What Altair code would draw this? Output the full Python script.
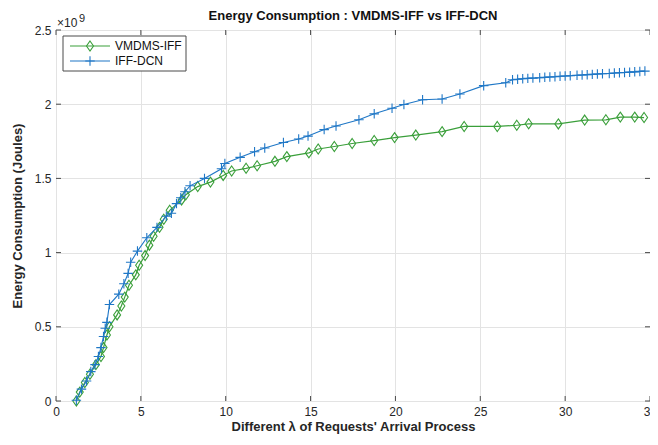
import altair as alt
import pandas as pd

# ---- data ----
series_names = ["VMDMS-IFF", "IFF-DCN"]

vm_x = [1.2, 1.4, 1.7, 2.0, 2.35, 2.65, 2.8, 3.0, 3.15, 3.6,
        3.85, 4.05, 4.3, 4.7, 4.9, 5.25, 5.5, 5.75, 6.1, 6.35,
        6.7, 7.4, 7.65, 8.35, 9.1, 9.85, 10.35, 11.2, 11.85, 12.9,
        13.6, 14.9, 15.45, 16.4, 17.45, 18.75, 19.95, 21.2, 22.75, 24.05,
        26.0, 27.15, 27.85, 29.6, 31.15, 32.4, 33.25, 34.1, 34.65]
vm_y = [0.0, 0.06, 0.125, 0.18, 0.245, 0.30, 0.36, 0.445, 0.50, 0.58,
        0.64, 0.70, 0.78, 0.85, 0.915, 0.98, 1.05, 1.11, 1.17, 1.225,
        1.285, 1.355, 1.39, 1.445, 1.475, 1.52, 1.55, 1.568, 1.585, 1.615,
        1.647, 1.672, 1.698, 1.715, 1.735, 1.755, 1.775, 1.792, 1.815, 1.85,
        1.85, 1.858, 1.868, 1.867, 1.893, 1.895, 1.913, 1.913, 1.91]

iff_x = [1.2, 1.5, 1.8, 2.05, 2.3, 2.5, 2.65, 2.8, 2.9, 3.0,
         3.15, 3.7, 4.0, 4.25, 4.4, 4.8, 5.35, 5.95, 6.5, 6.8,
         7.1, 7.35, 7.6, 7.9, 8.75, 9.75, 9.95, 10.85, 11.7, 12.3,
         13.4, 14.3, 14.85, 15.8, 16.5, 17.85, 18.75, 19.8, 20.5, 21.6,
         22.75, 23.8, 25.2, 26.5, 26.9,
         27.2, 27.5, 27.8, 28.1, 28.5, 28.8, 29.1, 29.4, 29.7, 30.0,
         30.3, 30.7, 31.0, 31.3, 31.6, 31.9, 32.2, 32.6, 32.9, 33.2,
         33.5, 33.8, 34.1, 34.4, 34.7]
iff_y = [0.005, 0.08, 0.135, 0.198, 0.245, 0.30, 0.36, 0.435, 0.49, 0.53,
         0.65, 0.72, 0.79, 0.86, 0.935, 1.01, 1.10, 1.17, 1.245, 1.265,
         1.33, 1.37, 1.41, 1.45, 1.50, 1.565, 1.60, 1.642, 1.68, 1.705,
         1.742, 1.765, 1.785, 1.829, 1.853, 1.895, 1.935, 1.973, 1.998, 2.03,
         2.035, 2.069, 2.125, 2.145, 2.165,
         2.168, 2.171, 2.174, 2.176, 2.178, 2.181, 2.183, 2.185, 2.188, 2.19,
         2.192, 2.195, 2.197, 2.199, 2.201, 2.203, 2.205, 2.207, 2.21, 2.212,
         2.214, 2.216, 2.218, 2.221, 2.223]

x_ticks = [0, 5, 10, 15, 20, 25, 30, 35]
y_ticks = [0, 0.5, 1, 1.5, 2, 2.5]

title_text = "Energy Consumption : VMDMS-IFF vs IFF-DCN"
x_title = "Different λ of Requests' Arrival Process"
y_title = "Energy Consumption (Joules)"

# ---- styling ----
W, H = 594, 371
PAD_L, PAD_T, PAD_R, PAD_B = 48, 22, 0, 36
FONT = "Liberation Sans"
GREEN = "#3a9f3a"
BLUE = "#1f77c6"
FRAME = "#4a4a4a"
DIAMOND = "M0,-1L0.7,0L0,1L-0.7,0Z"
PLUS = "M-1,0L1,0M0,-1L0,1"

vm_df = pd.DataFrame({"x": vm_x, "y": vm_y})
iff_df = pd.DataFrame({"x": iff_x, "y": iff_y})
xt_df = pd.DataFrame({"v": x_ticks})
yt_df = pd.DataFrame({"v": y_ticks})
one = pd.DataFrame({"a": [0]})

xs = alt.Scale(domain=[0, 35], nice=False, zero=False)
ys = alt.Scale(domain=[0, 2.5], nice=False, zero=False)

x_axis = alt.Axis(values=x_ticks, title=x_title, grid=True, ticks=False, domain=False,
                  labelFlush=False, labelOverlap=False, labelPadding=5,
                  labelFont=FONT, labelFontSize=12, labelColor="#262626",
                  titleFont=FONT, titleFontSize=13, titleFontWeight="bold",
                  titleColor="#262626", titlePadding=3,
                  gridColor="#e3e3e3", gridWidth=1)
y_axis = alt.Axis(values=y_ticks, title=y_title, grid=True, ticks=False, domain=False,
                  labelOverlap=False, labelPadding=5, labelFlush=False,
                  labelExpr="datum.value == 0 ? '0' : format(datum.value, '')",
                  labelFont=FONT, labelFontSize=12, labelColor="#262626",
                  titleFont=FONT, titleFontSize=13, titleFontWeight="bold",
                  titleColor="#262626", titlePadding=10,
                  gridColor="#e3e3e3", gridWidth=1)

vm_line = alt.Chart(vm_df).mark_line(color=GREEN, strokeWidth=1.2).encode(
    x=alt.X("x:Q", scale=xs, axis=x_axis),
    y=alt.Y("y:Q", scale=ys, axis=y_axis),
)
vm_pts = alt.Chart(vm_df).mark_point(shape=DIAMOND, filled=False, size=100,
                                     strokeWidth=1.1, color=GREEN, opacity=1).encode(
    x=alt.X("x:Q", scale=xs), y=alt.Y("y:Q", scale=ys))
iff_line = alt.Chart(iff_df).mark_line(color=BLUE, strokeWidth=1.1).encode(
    x=alt.X("x:Q", scale=xs), y=alt.Y("y:Q", scale=ys))
iff_pts = alt.Chart(iff_df).mark_point(shape=PLUS, filled=False, size=90,
                                       strokeWidth=1.1, color=BLUE, opacity=1).encode(
    x=alt.X("x:Q", scale=xs), y=alt.Y("y:Q", scale=ys))

# inward ticks (MATLAB style)
xt_bottom = alt.Chart(xt_df).mark_rule(color=FRAME, strokeWidth=1).encode(
    x=alt.X("v:Q", scale=xs), y=alt.value(H), y2=alt.value(H - 5))
xt_top = alt.Chart(xt_df).mark_rule(color=FRAME, strokeWidth=1).encode(
    x=alt.X("v:Q", scale=xs), y=alt.value(0), y2=alt.value(5))
yt_left = alt.Chart(yt_df).mark_rule(color=FRAME, strokeWidth=1).encode(
    y=alt.Y("v:Q", scale=ys), x=alt.value(0), x2=alt.value(5))
yt_right = alt.Chart(yt_df).mark_rule(color=FRAME, strokeWidth=1).encode(
    y=alt.Y("v:Q", scale=ys), x=alt.value(W), x2=alt.value(W - 5))

# title drawn as text so its position is fixed
title = alt.Chart(one).mark_text(font=FONT, fontSize=13, fontWeight="bold", align="center",
                                 baseline="alphabetic", color="#111").encode(
    x=alt.value(W / 2), y=alt.value(-10), text=alt.value(title_text))

# multiplier
mult = alt.Chart(one).mark_text(font=FONT, fontSize=12, align="left", baseline="alphabetic",
                                color="#262626").encode(
    x=alt.value(1), y=alt.value(-3), text=alt.value("×10"))
mult_exp = alt.Chart(one).mark_text(font=FONT, fontSize=11, align="left", baseline="alphabetic",
                                    color="#262626").encode(
    x=alt.value(23), y=alt.value(-8), text=alt.value("9"))

# legend (drawn by hand to show line + marker)
leg_box = alt.Chart(one).mark_rect(fill="white", stroke=FRAME, strokeWidth=1).encode(
    x=alt.value(7), x2=alt.value(130), y=alt.value(6), y2=alt.value(41))
legend_layers = [leg_box]
shapes = [DIAMOND, PLUS]
cols = [GREEN, BLUE]
sizes = [100, 90]
for i, name in enumerate(series_names):
    ry = 16 + 15 * i
    legend_layers.append(alt.Chart(one).mark_rule(color=cols[i], strokeWidth=1.2).encode(
        x=alt.value(14), x2=alt.value(54), y=alt.value(ry)))
    legend_layers.append(alt.Chart(one).mark_point(shape=shapes[i], filled=False, size=sizes[i],
                                                   strokeWidth=1.1, color=cols[i], opacity=1).encode(
        x=alt.value(34), y=alt.value(ry)))
    legend_layers.append(alt.Chart(one).mark_text(font=FONT, fontSize=12, align="left",
                                                  baseline="middle", color="#111").encode(
        x=alt.value(59), y=alt.value(ry), text=alt.value(name)))

chart = alt.layer(
    vm_line, vm_pts, iff_line, iff_pts,
    xt_bottom, xt_top, yt_left, yt_right,
    title, mult, mult_exp, *legend_layers,
).properties(
    width=W, height=H,
    autosize=alt.AutoSizeParams(type="none"),
    padding={"left": PAD_L, "top": PAD_T, "right": PAD_R, "bottom": PAD_B},
).configure_view(
    stroke=FRAME, strokeWidth=1
).configure(background="white")

chart.save("out.html", embed_options={"renderer": "svg", "actions": False})
